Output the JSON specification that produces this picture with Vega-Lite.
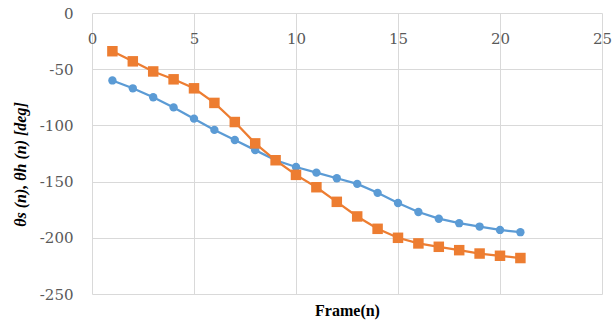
{
  "$schema": "https://vega.github.io/schema/vega-lite/v6.json",
  "autosize": "none",
  "width": 510,
  "height": 281,
  "padding": {"left": 92, "top": 13, "right": 11, "bottom": 30},
  "background": "white",
  "config": {"view": {"stroke": null}},
  "data": {"values": [
    {"frame": 1, "series": "s", "deg": -60}, {"frame": 2, "series": "s", "deg": -67}, {"frame": 3, "series": "s", "deg": -75},
    {"frame": 4, "series": "s", "deg": -84}, {"frame": 5, "series": "s", "deg": -94}, {"frame": 6, "series": "s", "deg": -104},
    {"frame": 7, "series": "s", "deg": -113}, {"frame": 8, "series": "s", "deg": -122}, {"frame": 9, "series": "s", "deg": -131},
    {"frame": 10, "series": "s", "deg": -137}, {"frame": 11, "series": "s", "deg": -142}, {"frame": 12, "series": "s", "deg": -147},
    {"frame": 13, "series": "s", "deg": -152}, {"frame": 14, "series": "s", "deg": -160}, {"frame": 15, "series": "s", "deg": -169},
    {"frame": 16, "series": "s", "deg": -177}, {"frame": 17, "series": "s", "deg": -183}, {"frame": 18, "series": "s", "deg": -187},
    {"frame": 19, "series": "s", "deg": -190}, {"frame": 20, "series": "s", "deg": -193}, {"frame": 21, "series": "s", "deg": -195},
    {"frame": 1, "series": "h", "deg": -34}, {"frame": 2, "series": "h", "deg": -43}, {"frame": 3, "series": "h", "deg": -52},
    {"frame": 4, "series": "h", "deg": -59}, {"frame": 5, "series": "h", "deg": -67}, {"frame": 6, "series": "h", "deg": -80},
    {"frame": 7, "series": "h", "deg": -97}, {"frame": 8, "series": "h", "deg": -116}, {"frame": 9, "series": "h", "deg": -131},
    {"frame": 10, "series": "h", "deg": -144}, {"frame": 11, "series": "h", "deg": -155}, {"frame": 12, "series": "h", "deg": -168},
    {"frame": 13, "series": "h", "deg": -181}, {"frame": 14, "series": "h", "deg": -192}, {"frame": 15, "series": "h", "deg": -200},
    {"frame": 16, "series": "h", "deg": -205}, {"frame": 17, "series": "h", "deg": -208}, {"frame": 18, "series": "h", "deg": -211},
    {"frame": 19, "series": "h", "deg": -214}, {"frame": 20, "series": "h", "deg": -216}, {"frame": 21, "series": "h", "deg": -218}
  ]},
  "encoding": {
    "x": {"field": "frame", "type": "quantitative",
      "scale": {"domain": [0, 25], "nice": false},
      "axis": {"orient": "top", "values": [0, 5, 10, 15, 20, 25], "domain": false, "ticks": false, "tickSize": 0,
        "grid": true, "gridColor": "#d9d9d9", "gridWidth": 1, "labelFlush": false,
        "labelFont": "DejaVu Serif", "labelFontSize": 15, "labelColor": "#595959",
        "labelBaseline": "top", "labelPadding": -18,
        "title": "Frame(n)", "titleFont": "Liberation Serif", "titleFontSize": 16, "titleFontWeight": "bold", "titleColor": "#000000",
        "titleBaseline": "top", "titleY": 289, "titleX": 255}},
    "y": {"field": "deg", "type": "quantitative",
      "scale": {"domain": [-250, 0], "nice": false},
      "axis": {"values": [0, -50, -100, -150, -200, -250], "domain": false, "ticks": false, "tickSize": 0,
        "grid": true, "gridColor": "#d9d9d9", "gridWidth": 1, "labelFlush": false,
        "labelExpr": "replace(datum.label, '\u2212', '-')",
        "labelFont": "DejaVu Serif", "labelFontSize": 15, "labelColor": "#595959", "labelPadding": 19,
        "title": "θs (n), θh (n) [deg]", "titleFont": "Liberation Serif", "titleFontSize": 16, "titleFontWeight": "bold",
        "titleFontStyle": "italic", "titleColor": "#000000",
        "titleAngle": 270, "titleBaseline": "middle", "titleX": -72, "titleY": 151}},
    "color": {"field": "series", "type": "nominal", "scale": {"domain": ["s", "h"], "range": ["#5B9BD5", "#ED7D31"]}, "legend": null}
  },
  "layer": [
    {"mark": {"type": "line", "strokeWidth": 2.25}, "encoding": {"detail": {"field": "series"}}},
    {"mark": {"type": "point", "filled": true, "opacity": 1},
      "encoding": {
        "shape": {"field": "series", "type": "nominal", "scale": {"domain": ["s", "h"], "range": ["circle", "square"]}, "legend": null},
        "size": {"field": "series", "type": "nominal", "scale": {"domain": ["s", "h"], "range": [70, 110]}, "legend": null}
      }}
  ]
}
